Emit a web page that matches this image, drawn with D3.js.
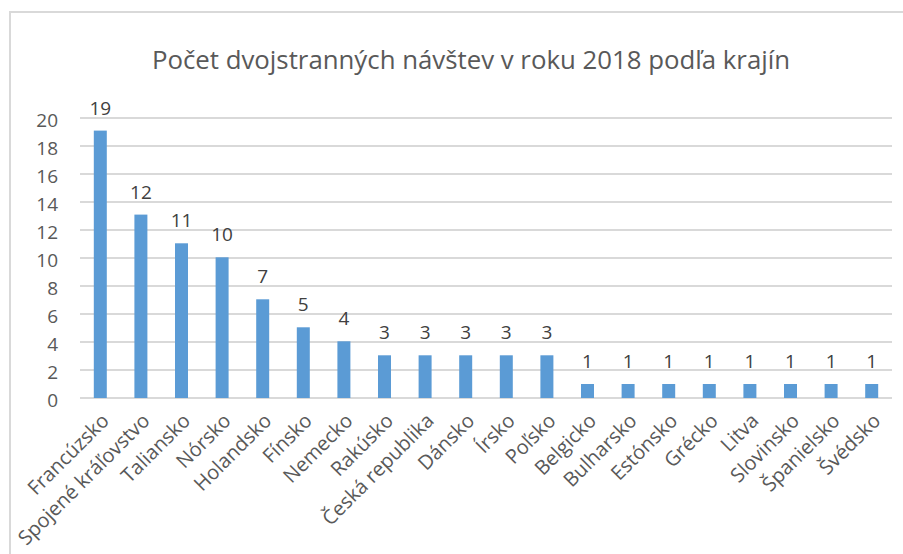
<!DOCTYPE html>
<html>
<head>
<meta charset="utf-8">
<script src="https://cdn.jsdelivr.net/npm/d3@7"></script>
<style>
  body{margin:0;background:#fff;}
  svg{display:block;font-family:"Open Sans","Noto Sans",sans-serif;}
</style>
</head>
<body>
<div id="chart"></div>
<script>
const titleText = "Počet dvojstranných návštev v roku 2018 podľa krajín"
const countries = ["Francúzsko","Spojené kráľovstvo","Taliansko","Nórsko","Holandsko","Fínsko","Nemecko","Rakúsko","Česká republika","Dánsko","Írsko","Poľsko","Belgicko","Bulharsko","Estónsko","Grécko","Litva","Slovinsko","Španielsko","Švédsko"]
const barValues = [19.1,13.1,11.05,10.05,7.05,5.05,4.05,3.05,3.05,3.05,3.05,3.05,1,1,1,1,1,1,1,1]
const dataLabels = ["19","12","11","10","7","5","4","3","3","3","3","3","1","1","1","1","1","1","1","1"]
const yTicks = [0,2,4,6,8,10,12,14,16,18,20]

const data = countries.map((c,i) => ({name:c, value:barValues[i], label:dataLabels[i]}))

drawChart(data,"#chart")

function drawChart(data,id){
    const canvas = {width:903, height:554, margin:{top:118, right:11, bottom:156, left:80}}
    const svg = d3.select(id).append("svg").attr("width",canvas.width).attr("height",canvas.height)

    // outer chart border (cropped: only left and top visible)
    svg.append("path").attr("d","M10,554 V12 H903").attr("fill","none")
      .attr("stroke","#d9d9d9").attr("stroke-width",2)

    const x = d3.scaleBand().domain(data.map(d => d.name))
      .range([canvas.margin.left,canvas.width - canvas.margin.right]).paddingInner(0.68).paddingOuter(0.34)
    const y = d3.scaleLinear().domain([0,20])
      .range([canvas.height - canvas.margin.bottom,canvas.margin.top])

    // gridlines
    svg.append("g").selectAll("line").data(yTicks).enter().append("line")
      .attr("x1",canvas.margin.left).attr("x2",canvas.width - canvas.margin.right)
      .attr("y1",d => y(d)).attr("y2",d => y(d))
      .attr("stroke","#d9d9d9").attr("stroke-width",2)

    // y axis labels
    const yAxis = svg.append("g").attr("transform",`translate(${canvas.margin.left - 22},2)`)
      .call(d3.axisLeft(y).tickValues(yTicks).tickSize(0).tickPadding(0))
    yAxis.select(".domain").remove()
    yAxis.selectAll("text").attr("font-size","19px").attr("fill","#595959")
      .attr("font-family","'Open Sans','Noto Sans',sans-serif")

    // bars
    svg.append("g").selectAll("rect").data(data).enter().append("rect")
      .attr("x",d => x(d.name)).attr("width",x.bandwidth())
      .attr("y",d => y(d.value)).attr("height",d => y(0) - y(d.value))
      .attr("fill","#5b9bd5")

    // value labels
    svg.append("g").selectAll("text").data(data).enter().append("text")
      .attr("x",d => x(d.name) + x.bandwidth()/2).attr("y",d => y(d.value) - 16)
      .attr("text-anchor","middle").attr("font-size","19px").attr("fill","#404040")
      .text(d => d.label)

    // category labels
    svg.append("g").selectAll("text").data(data).enter().append("text")
      .attr("transform",d => `translate(${x(d.name) + x.bandwidth()/2 + 10},${y(0) + 24}) rotate(-45)`)
      .attr("text-anchor","end").attr("font-size","20px").attr("fill","#595959")
      .text(d => d.name)

    // title
    svg.append("text").attr("x",471).attr("y",69).attr("text-anchor","middle")
      .attr("font-size","25.8px").attr("fill","#595959").text(titleText)
}
</script>
</body>
</html>
